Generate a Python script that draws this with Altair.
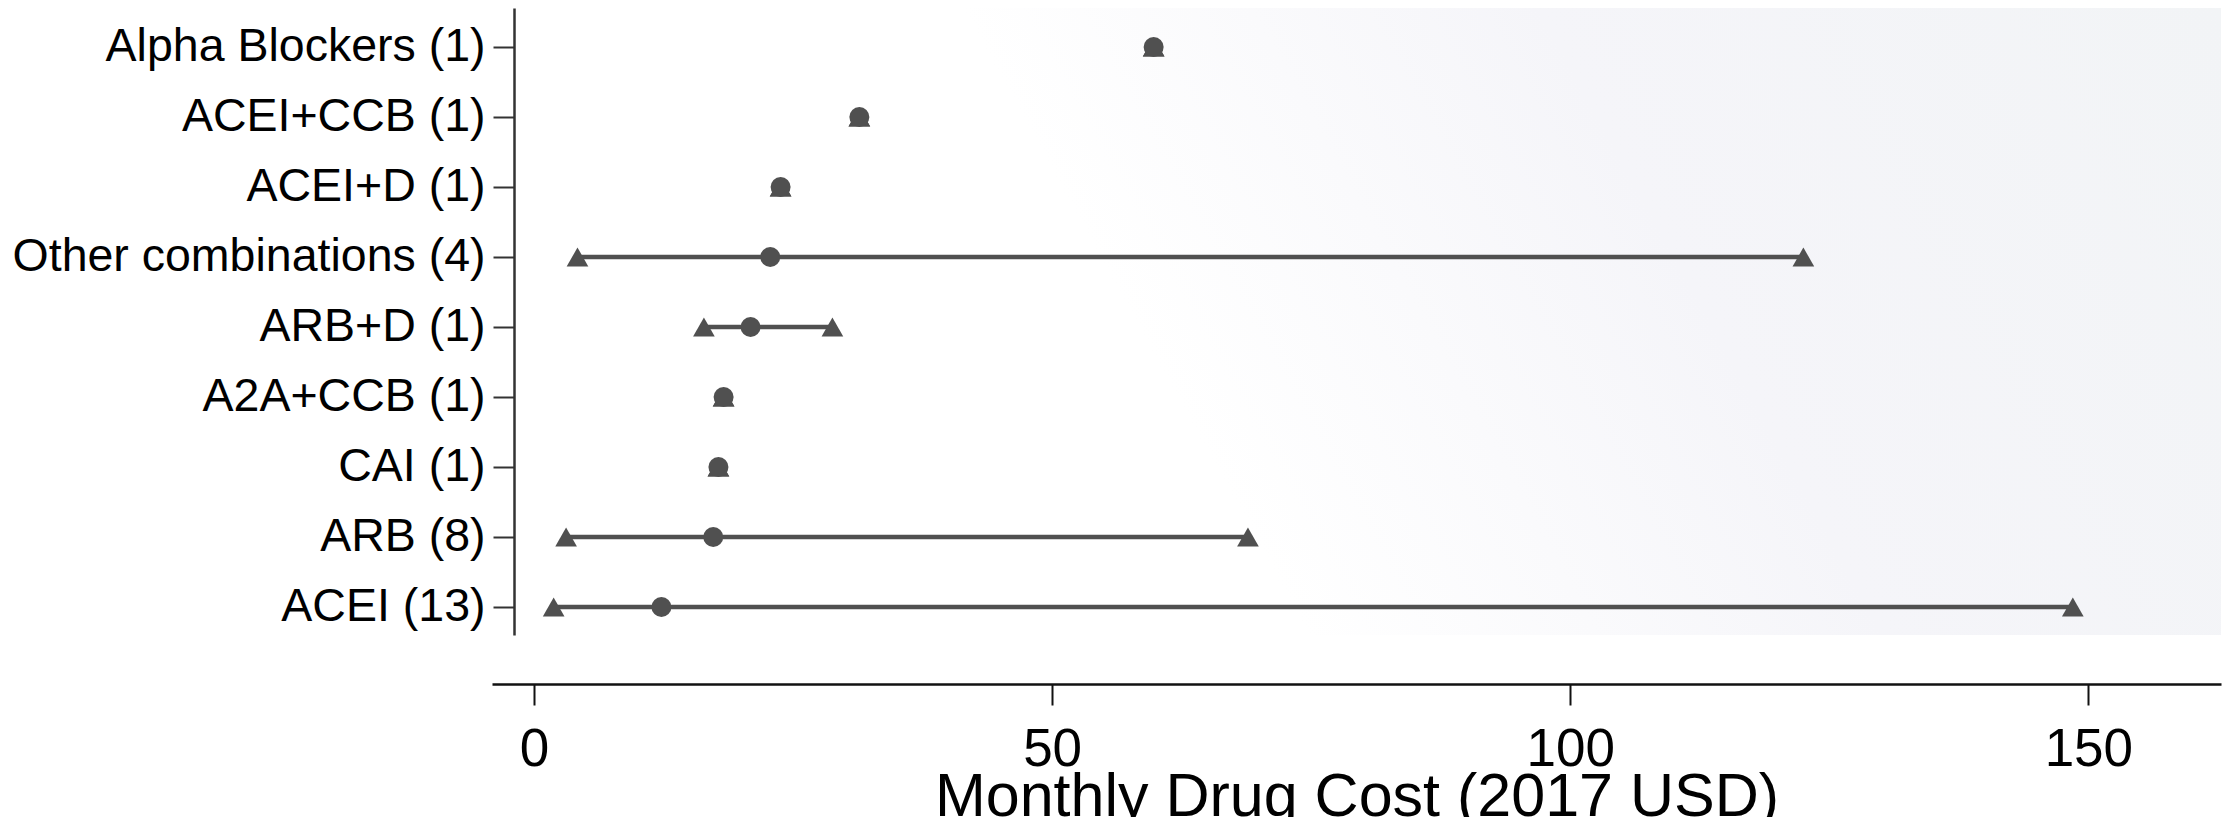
import altair as alt
import pandas as pd

# ---- data (Monthly Drug Cost, 2017 USD) ----
categories = ["ACEI (13)", "ARB (8)", "CAI (1)", "A2A+CCB (1)", "ARB+D (1)",
              "Other combinations (4)", "ACEI+D (1)", "ACEI+CCB (1)", "Alpha Blockers (1)"]
min_cost = [1.9, 3.1, 17.8, 18.3, 16.4, 4.2, 23.8, 31.4, 59.8]
median_cost = [12.3, 17.3, 17.8, 18.3, 20.9, 22.8, 23.8, 31.4, 59.8]
max_cost = [148.5, 68.9, 17.8, 18.3, 28.8, 122.5, 23.8, 31.4, 59.8]
x_ticks = [0, 50, 100, 150]

df = pd.DataFrame({
    "cat": categories,
    "idx": list(range(len(categories))),
    "lo": min_cost,
    "med": median_cost,
    "hi": max_cost,
})

W, H = 1729, 627
MARK = "#505050"
FONT = "Liberation Sans"

label_expr = "[" + ",".join("'" + c + "'" for c in categories) + "][datum.value]"

xs = alt.Scale(domain=[-4.05, 162.8], nice=False, zero=False)
ys = alt.Scale(domain=[-0.4, 8.557], nice=False, zero=False)

x_axis = alt.Axis(values=x_ticks, offset=49, tickSize=21, tickWidth=2, tickColor="#111",
                  domainColor="#111", domainWidth=2.5, labelPadding=18, labelFontSize=53,
                  labelFont=FONT, labelColor="#000", grid=False, labelFlush=False,
                  title="Monthly Drug Cost (2017 USD)", titleFont=FONT, titleFontSize=61,
                  titleFontWeight="normal", titleColor="#000", titleBaseline="alphabetic",
                  titleY=131, zindex=2)
y_axis = alt.Axis(values=list(range(len(categories))), labelExpr=label_expr, offset=-22,
                  tickSize=21, tickWidth=2, tickColor="#333", domainColor="#333",
                  domainWidth=2.5, labelPadding=8, labelFontSize=46.5, labelFont=FONT,
                  labelColor="#000", grid=False, title="", labelOverlap=False,
                  labelLimit=1000, zindex=2)

bg = alt.Chart(pd.DataFrame({"a": [0]})).mark_rect(
    color=alt.Gradient(gradient="linear", x1=0, x2=1, y1=0.2, y2=0,
                       stops=[alt.GradientStop(color="#ffffff", offset=0),
                              alt.GradientStop(color="#ffffff", offset=0.3),
                              alt.GradientStop(color="#f5f5f9", offset=0.62),
                              alt.GradientStop(color="#f2f4f6", offset=1)])
).encode(x=alt.value(0), x2=alt.value(W), y=alt.value(0), y2=alt.value(H))

base = alt.Chart(df)
rule = base.mark_rule(color=MARK, strokeWidth=4.5).encode(
    x=alt.X("lo:Q", scale=xs, axis=x_axis), x2="hi:Q",
    y=alt.Y("idx:Q", scale=ys, axis=y_axis))
tri_lo = base.mark_point(shape="triangle-up", filled=True, opacity=1, color=MARK, size=470).encode(
    x=alt.X("lo:Q", scale=xs), y=alt.Y("idx:Q", scale=ys))
tri_hi = base.mark_point(shape="triangle-up", filled=True, opacity=1, color=MARK, size=470).encode(
    x=alt.X("hi:Q", scale=xs), y=alt.Y("idx:Q", scale=ys))
dots = base.mark_circle(color=MARK, opacity=1, size=400).encode(
    x=alt.X("med:Q", scale=xs), y=alt.Y("idx:Q", scale=ys))

chart = alt.layer(bg, rule, tri_lo, tri_hi, dots).properties(
    width=W, height=H,
    autosize=alt.AutoSizeParams(type="none"),
    padding={"left": 484, "top": 0, "right": 6, "bottom": 182},
    background="#ffffff",
).configure_view(strokeWidth=0)

chart.save("out.html", embed_options={"renderer": "svg", "actions": False})
